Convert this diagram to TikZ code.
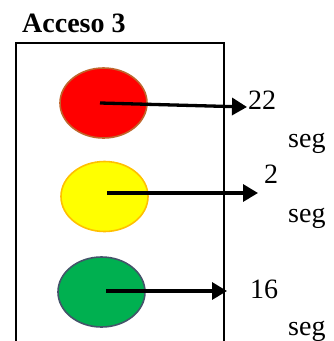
\documentclass[tikz,border=0pt]{standalone}
\usepackage{fontspec}
\setmainfont{Liberation Serif}
\usetikzlibrary{shapes.geometric,arrows.meta}
\definecolor{lred}{HTML}{FF0000}
\definecolor{lredb}{HTML}{C0652C}
\definecolor{lyel}{HTML}{FFFF00}
\definecolor{lyelb}{HTML}{FFC000}
\definecolor{lgrn}{HTML}{00B050}
\definecolor{lgrnb}{HTML}{44546A}
\tikzset{
  lamp/.style={ellipse, minimum width=87pt, minimum height=70pt, inner sep=0pt, line width=1.6pt},
  lbl/.style={anchor=base west, inner sep=0pt, font=\fontsize{28}{28}\selectfont},
  ptr/.style={line width=3.3pt, -{Triangle[length=15pt,width=17pt]}},
}
\begin{document}
\begin{tikzpicture}[x=1pt,y=-1pt]
\useasboundingbox (0,0) rectangle (333,341);
\clip (0,0) rectangle (333,341);
\draw[line width=2pt] (16,360) -- (16,43) -- (224,43) -- (224,360);
\node[lbl, font=\fontsize{28}{28}\selectfont\bfseries] (title) at (22,32.7) {Acceso 3};
\node[lamp, fill=lred, draw=lredb] (red) at (103.5,103) {};
\node[lamp, fill=lyel, draw=lyelb] (yellow) at (104.5,196.5) {};
\node[lamp, fill=lgrn, draw=lgrnb] (green) at (101.5,292) {};
\coordinate (r0) at (100,103);
\coordinate (r1) at (247,107);
\coordinate (y0) at (107,193);
\coordinate (y1) at (258,193);
\coordinate (g0) at (106,291);
\coordinate (g1) at (227,291);
\draw[ptr] (r0) -- (r1);
\draw[ptr] (y0) -- (y1);
\draw[ptr] (g0) -- (g1);
\node[lbl] (t22) at (248,109) {22};
\node[lbl] (s1) at (288,147) {seg};
\node[lbl] (t2) at (264,183) {2};
\node[lbl] (s2) at (288,222) {seg};
\node[lbl] (t16) at (250,298) {16};
\node[lbl] (s3) at (288,335) {seg};
\end{tikzpicture}
\end{document}
